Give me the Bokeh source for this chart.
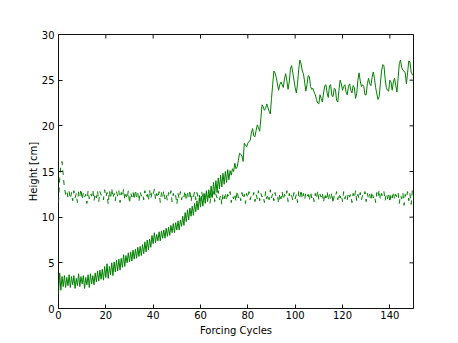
import math
from bokeh.plotting import figure
from bokeh.models import Range1d, FixedTicker
from bokeh.embed import file_html
from bokeh.resources import INLINE

# Forcing cycles sampled every half cycle, 0..150
cycles = [i * 0.5 for i in range(301)]

height_solid = [
    1.6, 3.9, 2.0, 3.5, 2.4, 3.6, 2.3, 3.4, 2.5, 3.7,
    2.3, 3.5, 2.6, 3.6, 2.2, 3.3, 2.5, 3.8, 2.4, 3.5,
    2.7, 3.6, 2.2, 3.4, 2.6, 3.7, 2.3, 3.8, 2.7, 3.6,
    2.6, 3.9, 2.9, 4.1, 3.0, 4.2, 3.2, 4.3, 3.1, 4.6,
    3.4, 4.9, 3.3, 4.6, 3.7, 5.0, 3.6, 5.1, 4.0, 5.3,
    4.1, 5.4, 4.2, 5.5, 4.5, 5.9, 4.6, 5.8, 5.0, 6.1,
    5.1, 6.2, 5.2, 6.4, 5.4, 6.5, 5.5, 6.7, 5.7, 6.8,
    5.8, 7.0, 6.0, 7.3, 6.2, 7.5, 6.4, 7.6, 6.7, 8.0,
    7.1, 8.3, 7.2, 8.1, 7.4, 8.4, 7.4, 8.5, 7.7, 8.6,
    7.7, 8.8, 7.9, 8.9, 8.0, 9.1, 8.3, 9.3, 8.3, 9.4,
    8.6, 9.6, 8.6, 9.7, 9.0, 10.1, 9.1, 10.5, 9.5, 10.8,
    9.7, 11.0, 10.1, 11.2, 10.2, 11.5, 10.6, 11.8, 10.8, 12.1,
    11.1, 12.3, 11.2, 12.6, 11.5, 12.9, 11.7, 13.0, 12.1, 13.4,
    12.2, 13.8, 12.5, 14.0, 12.7, 14.3, 13.1, 14.6, 13.3, 14.8,
    13.6, 15.0, 13.8, 15.2, 14.1, 15.1, 14.6, 15.3, 15.0, 15.9,
    15.3, 15.5, 16.2, 17.0, 16.9, 16.7, 16.1, 18.1, 17.9, 17.7,
    18.1, 18.3, 18.4, 19.2, 19.7, 18.9, 18.8, 19.5, 20.1, 19.8,
    19.4, 20.8, 22.3, 22.1, 21.7, 21.9, 22.4, 22.0, 21.6, 21.3,
    23.0, 24.5, 26.0, 25.8, 25.3, 24.6, 23.9, 24.5, 24.8, 24.5,
    24.2, 25.2, 25.7, 24.9, 24.0, 24.8, 26.2, 26.6, 25.8, 25.0,
    24.2, 23.6, 24.6, 26.2, 27.2, 26.8, 26.0, 25.7, 24.8, 23.8,
    24.5, 25.5, 25.4, 24.3, 24.0, 24.1, 23.7, 23.4, 22.9, 22.5,
    22.4, 23.4, 23.0, 22.6, 23.6, 24.4, 24.5, 23.6, 23.1, 24.4,
    24.5, 23.3, 23.2, 24.1, 24.0, 22.8, 22.6, 23.9, 25.0, 24.6,
    23.9, 24.3, 24.5, 23.7, 23.4, 24.3, 24.6, 23.9, 23.6, 24.4,
    24.2, 23.0, 23.5, 25.0, 25.8, 24.9, 24.3, 24.5, 24.3, 23.4,
    23.4, 24.6, 25.2, 24.6, 24.4, 25.3, 25.9, 25.2, 24.2, 23.5,
    22.9, 23.2, 24.6, 26.0, 26.7, 26.6, 25.2, 24.2, 23.9, 23.8,
    25.0, 24.8, 23.9, 24.8, 25.2, 24.4, 23.7, 25.2, 26.8, 27.2,
    26.4, 26.1, 26.0, 25.8, 24.6, 25.8, 27.1, 27.0, 25.9, 25.6,
    25.5,
]

height_dashed = [
    11.6, 14.2, 15.6, 16.1, 14.6, 13.2, 12.5, 12.9, 12.2, 12.8,
    12.0, 12.7, 11.8, 12.9, 12.1, 12.6, 11.6, 12.8, 12.3, 13.1,
    11.9, 12.7, 12.2, 12.5, 11.5, 12.9, 12.0, 12.6, 12.3, 13.0,
    11.8, 12.6, 12.1, 12.9, 11.7, 12.8, 12.4, 12.5, 11.9, 13.0,
    12.2, 12.7, 11.4, 12.9, 12.0, 13.2, 12.1, 12.6, 11.8, 12.8,
    12.3, 12.9, 11.6, 12.7, 12.2, 13.1, 11.9, 12.5, 12.0, 12.9,
    11.5, 12.7, 12.2, 12.8, 11.9, 13.0, 12.1, 12.6, 11.7, 12.8,
    12.3, 12.6, 11.9, 12.9, 12.2, 12.5, 11.8, 13.0, 12.0, 12.7,
    12.4, 13.1, 11.9, 12.6, 12.1, 12.8, 11.6, 12.7, 12.2, 12.9,
    12.0, 12.5, 11.8, 12.7, 12.3, 12.9, 11.7, 12.6, 12.1, 12.4,
    11.4, 12.6, 12.0, 12.8, 11.9, 12.5, 12.2, 12.9, 11.8, 12.6,
    12.1, 13.0, 11.7, 12.5, 12.2, 12.8, 11.9, 12.7, 12.0, 12.4,
    11.6, 12.8, 12.1, 12.5, 11.8, 12.7, 12.2, 12.4, 11.5, 12.6,
    12.0, 12.8, 11.7, 12.5, 12.1, 12.9, 11.9, 12.4, 11.4, 12.6,
    12.0, 12.7, 11.8, 12.5, 12.2, 12.8, 11.6, 12.3, 12.0, 12.6,
    11.7, 12.9, 12.1, 12.4, 11.8, 12.7, 12.0, 12.5, 11.5, 12.6,
    12.1, 12.8, 11.9, 12.4, 12.2, 12.7, 11.7, 12.5, 12.0, 12.9,
    11.8, 12.6, 12.2, 12.4, 11.6, 12.8, 12.0, 12.5, 11.9, 13.0,
    12.1, 12.6, 11.8, 12.7, 12.2, 12.4, 11.5, 12.6, 12.0, 12.8,
    11.9, 12.5, 12.2, 12.9, 11.7, 12.6, 12.1, 12.4, 11.8, 12.7,
    12.0, 12.5, 11.6, 12.8, 12.2, 13.0, 12.0, 12.6, 11.9, 12.7,
    12.3, 12.5, 11.8, 12.8, 12.1, 12.4, 11.7, 12.6, 12.0, 12.9,
    11.9, 12.5, 12.2, 12.7, 11.6, 12.6, 12.1, 12.8, 11.8, 12.5,
    12.0, 12.7, 11.5, 12.4, 12.2, 12.8, 11.9, 12.6, 12.1, 12.5,
    11.7, 12.8, 12.0, 12.4, 11.9, 12.7, 12.2, 12.5, 11.6, 12.6,
    12.1, 12.9, 11.8, 12.5, 12.0, 12.7, 11.9, 12.4, 12.2, 12.8,
    11.7, 12.6, 12.0, 12.5, 11.8, 12.8, 12.1, 12.4, 11.6, 12.7,
    12.2, 13.0, 11.9, 12.6, 12.3, 12.8, 11.8, 12.5, 12.0, 12.7,
    11.6, 12.6, 12.1, 12.8, 11.9, 12.5, 12.2, 12.7, 11.5, 12.4,
    12.0, 12.7, 11.3, 12.5, 12.1, 12.8, 11.8, 12.6, 11.4, 12.9,
    12.2,
]

x_ticks = [0, 20, 40, 60, 80, 100, 120, 140]
y_ticks = [0, 5, 10, 15, 20, 25, 30]
x_min, x_max = 0, 150
y_min, y_max = 0, 30

FONT = "DejaVu Sans"
GREEN = "#008000"
DARK = "#111111"

p = figure(
    frame_width=355, frame_height=274,
    min_border_left=58, min_border_right=30,
    min_border_top=34, min_border_bottom=30,
    x_range=Range1d(x_min, x_max), y_range=Range1d(y_min, y_max),
    output_backend="svg", toolbar_location=None,
    x_axis_label="Forcing Cycles", y_axis_label="Height [cm]",
)
p.grid.visible = False
p.outline_line_color = DARK
p.outline_line_width = 1
p.outline_line_alpha = 1.0
p.background_fill_color = "white"
p.border_fill_color = "white"

p.line(cycles, height_solid, line_color=GREEN, line_width=1.0)
p.line(cycles, height_dashed, line_color=GREEN, line_width=1.0, line_dash="5 5")

# inward ticks on the top and right edges (matplotlib classic frame)
p.scatter([t for t in x_ticks], [y_max] * len(x_ticks), marker="dash",
          size=8, angle=math.pi / 2, line_color=DARK, line_width=1)
p.scatter([x_max] * len(y_ticks), [t for t in y_ticks], marker="dash",
          size=8, line_color=DARK, line_width=1)


def style(ax, ticks, label_standoff, axis_label_standoff):
    ax.ticker = FixedTicker(ticks=ticks)
    ax.axis_line_color = None
    ax.major_tick_in = 4
    ax.major_tick_out = 0
    ax.major_tick_line_color = DARK
    ax.minor_tick_line_color = None
    ax.major_label_text_font = FONT
    ax.major_label_text_font_size = "10px"
    ax.major_label_text_color = "black"
    ax.major_label_standoff = label_standoff
    ax.axis_label_text_font = FONT
    ax.axis_label_text_font_size = "10px"
    ax.axis_label_text_font_style = "normal"
    ax.axis_label_text_color = "black"
    ax.axis_label_standoff = axis_label_standoff


style(p.xaxis[0], x_ticks, 2, 3)
style(p.yaxis[0], y_ticks, 4, 0)

open("out.html", "w").write(file_html(p, INLINE))
